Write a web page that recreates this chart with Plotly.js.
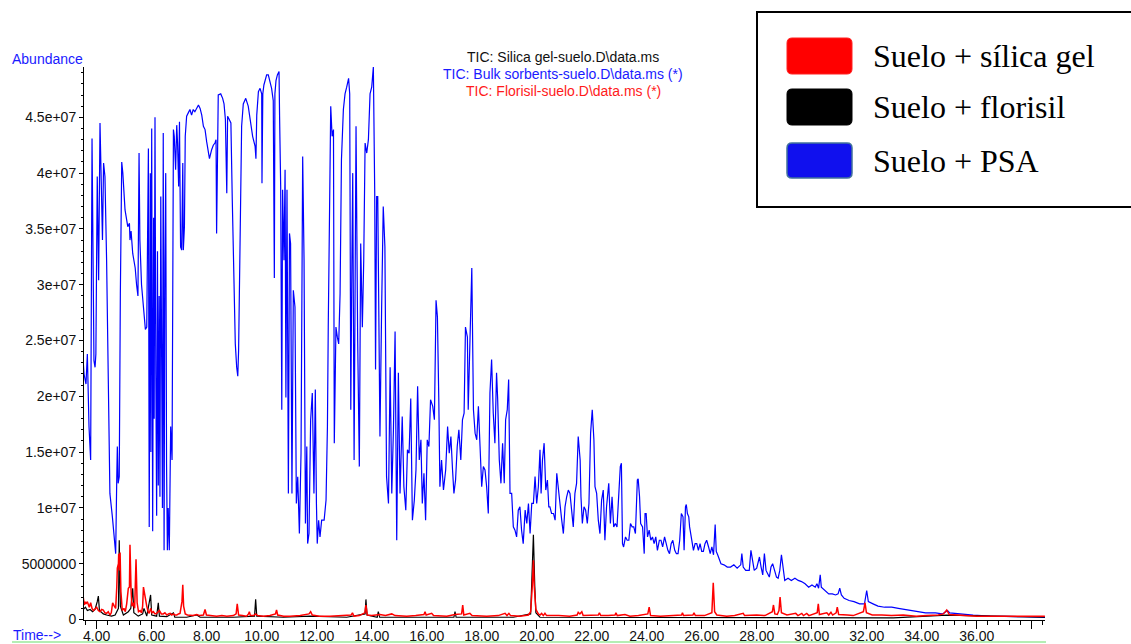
<!DOCTYPE html>
<html><head><meta charset="utf-8">
<script src="https://cdn.plot.ly/plotly-3.0.1.min.js"></script>
<style>html,body{margin:0;padding:0;background:#fff;} #chart{width:1131px;height:644px;}</style>
</head><body><div id="chart"></div>
<script>
// ---- DATA (retention time in minutes, abundance in counts) ----
const timePSA = [
3.49,3.54,3.61,3.66,3.72,3.78,3.83,3.88,3.90,3.94,
3.97,4.02,4.07,4.12,4.17,4.21,4.25,4.30,4.36,4.42,
4.48,4.57,4.64,4.69,4.73,4.75,4.78,4.82,4.86,4.91,
4.95,5.03,5.13,5.19,5.21,5.25,5.31,5.40,5.45,5.50,
5.54,5.57,5.63,5.70,5.77,
5.82,5.88,5.91,5.95,5.97,6.00,6.035,6.07,6.09,6.12,
6.15,6.18,6.21,6.24,6.27,6.30,6.33,6.36,6.39,6.42,
6.45,6.48,6.51,6.54,6.57,6.60,6.62,6.64,6.69,6.74,6.79,
6.82,6.87,6.91,6.94,6.98,7.01,7.05,7.09,7.13,7.15,
7.19,7.22,7.27,7.33,7.39,7.45,7.51,7.57,7.64,7.70,
7.76,7.82,7.88,7.94,8.00,8.06,8.10,8.18,8.24,8.30,
8.34,8.36,8.39,8.42,8.51,8.58,8.63,8.68,8.73,8.76,
8.82,8.88,8.93,8.99,9.04,9.09,9.13,9.16,9.21,9.27,
9.33,9.42,9.51,9.60,9.67,9.76,9.79,9.82,9.88,9.94,
10.00,10.01,10.04,
10.08,10.13,10.18,10.24,10.30,10.36,10.42,10.46,10.48,10.52,
10.57,10.63,10.65,10.69,10.73,10.76,10.81,10.85,10.88,10.92,
10.97,11.01,11.05,11.10,11.15,11.21,11.26,11.31,11.37,11.43,
11.49,11.54,11.59,11.64,11.67,11.72,11.78,11.84,11.90,11.95,
11.99,12.02,12.07,12.12,12.18,12.27,12.34,12.39,12.42,12.46,
12.51,12.56,12.61,12.64,12.70,12.75,12.80,12.85,12.90,12.97,
13.03,13.09,13.16,13.20,13.24,13.28,13.31,13.36,13.43,13.49,
13.55,13.60,13.66,13.71,13.76,13.82,13.88,13.94,14.00,14.06,
14.11,14.14,14.18,14.22,14.27,14.30,
14.36,14.42,14.48,14.54,14.61,14.67,14.73,14.79,14.85,14.91,
14.97,15.03,15.11,15.17,15.24,15.30,15.36,15.42,15.48,15.55,
15.61,15.67,15.73,15.79,15.84,15.90,15.96,16.02,16.08,16.14,
16.22,16.28,16.34,16.39,16.44,16.48,16.54,16.61,16.69,16.76,
16.82,16.88,16.94,16.99,17.05,17.11,17.17,17.24,17.30,17.36,
17.41,17.48,17.51,17.57,17.64,17.70,17.76,17.82,17.88,17.94,
18.00,18.06,18.12,18.18,18.24,18.30,18.36,18.42,18.48,18.54,
18.58,18.64,18.70,18.76,18.82,18.87,18.93,18.98,19.03,19.09,
19.15,19.21,19.27,19.33,19.39,19.45,19.51,19.58,19.64,19.70,
19.76,19.82,19.88,19.94,20.00,20.06,20.12,20.16,20.21,20.27,
20.33,20.39,20.44,20.48,20.54,20.61,20.67,20.73,20.79,20.85,
20.91,20.97,21.03,21.09,21.15,21.21,21.27,21.33,21.39,21.45,
21.51,21.58,21.61,21.66,21.72,21.78,21.84,21.90,21.96,22.02,
22.08,22.12,22.18,22.24,22.30,
22.36,22.42,22.48,22.54,22.62,22.68,22.74,22.80,22.86,22.92,
22.98,23.04,23.08,23.12,23.16,23.23,23.29,23.35,23.41,23.47,
23.53,23.59,23.66,23.69,23.74,23.78,23.85,23.91,23.94,23.98,
24.03,24.09,24.15,24.21,24.27,24.33,24.39,24.46,24.52,24.58,
24.65,24.71,24.77,24.83,24.89,24.95,25.02,25.08,25.14,25.20,
25.26,25.32,25.36,25.41,25.44,25.48,25.53,25.56,25.63,25.70,
25.76,25.82,25.88,25.94,26.00,26.06,26.12,26.18,26.25,26.31,
26.37,26.43,26.49,26.53,26.58,26.64,26.70,26.81,26.93,27.05,
27.17,27.29,27.42,27.46,27.51,27.60,27.73,27.79,27.85,27.91,
28.00,28.10,28.16,28.22,28.28,28.34,28.40,28.46,28.52,28.58,
28.65,28.72,28.78,28.84,28.90,28.93,28.98,29.02,29.14,29.26,
29.39,29.51,29.63,29.76,29.89,30.01,30.13,30.19,30.25,30.31,
30.35,30.50,30.62,30.75,30.87,30.96,31.02,31.08,31.18,31.36,
31.54,31.74,31.92,32.00,32.06,32.23,32.41,32.65,32.91,33.15,
33.40,33.76,34.14,34.50,34.75,34.88,34.94,35.02,35.37,35.87,
36.48,37.10,37.71,38.33,38.76
];
const abundPSA = [
2.38e7,2.20e7,2.11e7,2.38e7,1.73e7,1.43e7,4.31e7,2.47e7,2.32e7,2.26e7,
2.38e7,3.97e7,3.04e7,4.45e7,3.67e7,3.40e7,4.09e7,3.97e7,3.22e7,2.03e7,
1.13e7,0.92e7,0.68e7,0.59e7,1.28e7,1.55e7,1.22e7,1.28e7,2.92e7,4.10e7,
4.00e7,3.67e7,3.52e7,3.55e7,3.40e7,3.48e7,3.28e7,3.15e7,3.00e7,2.90e7,
4.18e7,3.40e7,3.00e7,2.80e7,2.60e7,
2.62e7,4.22e7,0.83e7,4.00e7,1.50e7,4.40e7,0.79e7,3.60e7,1.80e7,4.50e7,
2.20e7,0.93e7,3.30e7,1.20e7,2.90e7,1.10e7,3.79e7,2.00e7,1.00e7,4.36e7,
0.62e7,3.20e7,4.00e7,1.40e7,0.62e7,1.00e7,0.70e7,0.62e7,1.73e7,1.43e7,4.39e7,
4.33e7,4.03e7,4.43e7,4.27e7,3.88e7,4.46e7,3.34e7,3.31e7,4.09e7,3.31e7,
3.52e7,4.33e7,4.51e7,4.54e7,4.57e7,4.52e7,4.57e7,4.55e7,4.58e7,4.61e7,
4.58e7,4.52e7,4.42e7,4.39e7,4.28e7,4.18e7,4.13e7,4.21e7,4.25e7,4.27e7,
4.30e7,3.46e7,4.30e7,4.70e7,4.71e7,4.67e7,4.62e7,4.48e7,3.82e7,4.51e7,
4.48e7,4.45e7,3.76e7,2.92e7,2.47e7,2.26e7,2.18e7,2.41e7,3.22e7,4.42e7,
4.62e7,4.67e7,4.60e7,4.42e7,4.33e7,4.24e7,4.13e7,4.52e7,4.73e7,4.76e7,
4.71e7,3.91e7,4.71e7,
4.79e7,4.83e7,4.88e7,4.88e7,4.83e7,4.76e7,4.65e7,3.06e7,4.71e7,4.83e7,
4.88e7,4.91e7,4.51e7,3.88e7,1.88e7,3.85e7,3.22e7,4.03e7,1.99e7,3.85e7,
1.13e7,3.46e7,3.37e7,1.13e7,2.95e7,2.80e7,1.04e7,1.28e7,0.77e7,1.49e7,
4.15e7,3.22e7,0.86e7,1.55e7,0.68e7,0.77e7,1.79e7,2.03e7,1.13e7,2.06e7,
1.04e7,0.68e7,0.89e7,0.74e7,0.89e7,0.89e7,1.07e7,1.73e7,2.62e7,3.52e7,
4.60e7,4.33e7,4.39e7,1.58e7,2.62e7,2.53e7,2.47e7,2.92e7,4.12e7,4.57e7,
4.71e7,4.77e7,4.85e7,4.71e7,1.88e7,3.22e7,4.00e7,1.43e7,4.42e7,2.50e7,
1.37e7,3.37e7,2.62e7,3.22e7,4.27e7,4.18e7,4.30e7,4.71e7,4.77e7,4.95e7,
3.82e7,2.24e7,3.79e7,3.79e7,2.35e7,1.64e7,
2.77e7,3.70e7,3.34e7,1.28e7,1.04e7,2.26e7,1.13e7,1.70e7,2.58e7,0.71e7,
2.21e7,1.13e7,1.82e7,1.19e7,0.98e7,1.52e7,1.49e7,1.98e7,0.89e7,1.07e7,
1.34e7,2.09e7,1.43e7,1.61e7,1.04e7,1.31e7,0.89e7,1.61e7,1.55e7,1.97e7,
1.91e7,1.79e7,2.86e7,2.71e7,1.97e7,1.19e7,1.43e7,1.16e7,1.34e7,1.73e7,
1.49e7,1.64e7,1.34e7,1.13e7,1.25e7,1.55e7,1.70e7,1.43e7,1.79e7,1.85e7,
2.62e7,2.53e7,1.88e7,2.56e7,3.15e7,1.88e7,1.67e7,1.61e7,1.91e7,1.55e7,
1.19e7,1.37e7,1.34e7,1.19e7,0.95e7,2.03e7,2.33e7,1.85e7,1.58e7,2.21e7,
1.98e7,1.43e7,1.22e7,1.58e7,1.22e7,1.79e7,1.88e7,2.15e7,1.13e7,1.13e7,
0.83e7,0.80e7,0.74e7,0.98e7,1.01e7,0.80e7,0.68e7,0.98e7,0.86e7,1.04e7,
0.77e7,1.04e7,1.04e7,1.28e7,1.04e7,1.19e7,1.52e7,1.13e7,1.43e7,1.58e7,
1.16e7,1.25e7,1.01e7,1.01e7,0.95e7,0.95e7,0.89e7,1.31e7,1.16e7,0.98e7,
0.89e7,0.77e7,1.01e7,1.10e7,1.16e7,1.13e7,0.98e7,0.83e7,1.13e7,1.22e7,
1.64e7,1.43e7,1.10e7,0.86e7,1.01e7,0.98e7,0.86e7,1.04e7,1.67e7,1.88e7,
1.61e7,1.19e7,1.13e7,0.89e7,0.77e7,
1.07e7,1.16e7,0.71e7,1.01e7,1.22e7,0.86e7,1.10e7,0.83e7,0.86e7,0.83e7,
1.16e7,1.37e7,1.40e7,0.68e7,0.65e7,0.74e7,0.71e7,0.71e7,0.86e7,0.83e7,
0.83e7,0.77e7,1.25e7,1.26e7,1.10e7,0.86e7,0.83e7,0.59e7,0.95e7,0.95e7,
0.74e7,0.80e7,0.71e7,0.74e7,0.68e7,0.74e7,0.62e7,0.71e7,0.71e7,0.65e7,
0.74e7,0.68e7,0.62e7,0.59e7,0.68e7,0.71e7,0.62e7,0.59e7,0.59e7,0.71e7,
0.95e7,0.92e7,0.62e7,1.01e7,1.03e7,0.95e7,0.92e7,0.83e7,0.74e7,0.62e7,
0.68e7,0.68e7,0.62e7,0.68e7,0.61e7,0.61e7,0.68e7,0.71e7,0.65e7,0.59e7,
0.65e7,0.58e7,0.85e7,0.61e7,0.58e7,0.53e7,0.50e7,0.49e7,0.47e7,0.47e7,
0.49e7,0.46e7,0.49e7,0.59e7,0.47e7,0.44e7,0.44e7,0.62e7,0.53e7,0.44e7,
0.46e7,0.56e7,0.47e7,0.40e7,0.59e7,0.44e7,0.41e7,0.38e7,0.47e7,0.50e7,
0.44e7,0.38e7,0.37e7,0.44e7,0.58e7,0.53e7,0.44e7,0.35e7,0.37e7,0.35e7,
0.37e7,0.35e7,0.34e7,0.32e7,0.29e7,0.31e7,0.29e7,0.32e7,0.28e7,0.40e7,
0.29e7,0.26e7,0.23e7,0.23e7,0.22e7,0.23e7,0.28e7,0.22e7,0.19e7,0.17e7,
0.16e7,0.14e7,0.14e7,0.26e7,0.16e7,0.14e7,0.12e7,0.11e7,0.11e7,0.10e7,
0.09e7,0.08e7,0.06e7,0.06e7,0.05e7,0.07e7,0.08e7,0.06e7,0.05e7,0.04e7,
0.03e7,0.03e7,0.025e7,0.02e7,0.015e7
];

// black trace (legend: Suelo + florisil)
const timeFlorisil = [
3.51,3.59,3.66,3.76,3.85,3.94,4.02,4.06,4.10,4.24,
4.36,4.54,4.67,4.79,4.82,4.86,4.97,5.15,5.24,5.31,
5.35,5.51,5.67,5.72,5.82,5.96,6.00,6.18,6.24,6.28,
6.55,6.79,6.84,7.27,7.64,7.76,8.97,9.74,9.78,9.82,
10.79,11.76,13.09,13.76,13.79,13.83,14.20,14.24,14.29,15.76,
16.99,17.03,17.07,19.15,19.78,19.83,19.88,19.93,19.97,20.12,
21.57,24.00,26.42,28.12,30.55,32.97,34.91,38.48
];
const abundFlorisil = [
0.09e7,0.11e7,0.08e7,0.09e7,0.07e7,0.09e7,0.16e7,0.21e7,0.08e7,0.05e7,
0.04e7,0.03e7,0.04e7,0.10e7,0.71e7,0.12e7,0.04e7,0.07e7,0.10e7,0.28e7,
0.06e7,0.03e7,0.05e7,0.10e7,0.03e7,0.22e7,0.04e7,0.03e7,0.15e7,0.03e7,
0.025e7,0.06e7,0.02e7,0.02e7,0.04e7,0.02e7,0.02e7,0.03e7,0.18e7,0.03e7,
0.02e7,0.03e7,0.02e7,0.05e7,0.18e7,0.04e7,0.02e7,0.07e7,0.02e7,0.02e7,
0.02e7,0.07e7,0.02e7,0.02e7,0.05e7,0.40e7,0.76e7,0.30e7,0.06e7,0.02e7,
0.02e7,0.015e7,0.02e7,0.015e7,0.015e7,0.015e7,0.04e7,0.02e7
];

// red trace (legend: Suelo + sílica gel)
const timeSilica = [
3.51,3.55,3.58,3.61,3.66,3.70,3.73,3.78,3.83,3.88,
3.94,4.00,4.06,4.12,4.18,4.24,4.30,4.36,4.42,4.48,
4.53,4.58,4.64,4.69,4.73,4.75,4.79,4.80,4.82,4.85,
4.88,4.93,4.99,5.04,5.09,5.15,5.19,5.21,5.25,5.28,
5.33,5.38,5.43,5.47,5.52,5.58,5.63,5.67,5.70,5.73,
5.77,5.82,5.87,5.91,5.96,6.01,6.06,6.12,6.18,6.23,
6.28,6.35,6.42,6.48,6.55,6.61,6.67,6.73,6.79,6.85,
6.91,6.97,7.03,7.10,7.13,7.16,7.22,7.30,7.39,7.50,
7.64,7.75,7.88,7.94,7.99,8.15,8.36,8.55,8.73,8.97,
9.07,9.11,9.16,9.30,9.45,9.52,9.55,9.59,9.70,9.78,
9.85,10.06,10.30,10.50,10.54,10.58,10.80,11.03,11.40,11.72,
11.78,11.84,12.10,12.48,12.80,13.25,13.30,13.35,13.55,13.75,
13.79,13.84,14.00,14.30,14.50,14.73,14.85,15.27,15.60,15.90,
15.94,15.98,16.18,16.25,16.73,17.03,17.27,17.31,17.35,17.57,
17.65,18.18,18.60,18.85,18.92,18.99,19.05,19.39,19.70,19.78,
19.84,19.88,19.91,19.97,20.06,20.12,20.18,20.24,20.30,20.36,
20.80,21.20,21.47,21.51,21.57,21.64,21.69,21.95,22.24,22.28,
22.33,22.60,22.85,22.88,22.93,23.21,23.39,23.70,24.04,24.09,
24.14,24.50,24.90,25.27,25.30,25.34,25.68,25.72,25.77,26.10,
26.37,26.42,26.47,26.55,26.91,27.20,27.51,27.56,28.00,28.30,
28.57,28.61,28.66,28.75,28.81,28.85,28.90,29.10,29.42,29.50,
29.64,29.70,29.82,29.90,30.20,30.24,30.28,30.55,30.62,30.70,
30.76,30.89,30.93,30.98,31.30,31.51,31.88,31.94,31.99,32.20,
32.55,32.90,33.33,33.80,34.18,34.60,34.79,34.91,35.00,35.50,
36.00,37.00,38.48
];
const abundSilica = [
0.20e7,0.13e7,0.16e7,0.14e7,0.16e7,0.12e7,0.11e7,0.15e7,0.10e7,0.08e7,
0.10e7,0.11e7,0.08e7,0.07e7,0.09e7,0.085e7,0.06e7,0.055e7,0.07e7,0.04e7,
0.06e7,0.15e7,0.12e7,0.10e7,0.29e7,0.46e7,0.50e7,0.59e7,0.44e7,0.60e7,
0.25e7,0.08e7,0.10e7,0.07e7,0.14e7,0.28e7,0.29e7,0.67e7,0.26e7,0.12e7,
0.15e7,0.10e7,0.54e7,0.15e7,0.07e7,0.08e7,0.06e7,0.12e7,0.29e7,0.24e7,
0.20e7,0.12e7,0.07e7,0.055e7,0.10e7,0.06e7,0.07e7,0.05e7,0.055e7,0.07e7,
0.08e7,0.05e7,0.05e7,0.06e7,0.04e7,0.05e7,0.055e7,0.04e7,0.05e7,0.04e7,
0.04e7,0.05e7,0.055e7,0.16e7,0.31e7,0.12e7,0.05e7,0.04e7,0.04e7,0.035e7,
0.045e7,0.035e7,0.04e7,0.09e7,0.04e7,0.035e7,0.03e7,0.035e7,0.03e7,0.035e7,
0.05e7,0.14e7,0.04e7,0.035e7,0.03e7,0.05e7,0.07e7,0.035e7,0.035e7,0.05e7,
0.035e7,0.03e7,0.035e7,0.05e7,0.085e7,0.04e7,0.03e7,0.03e7,0.035e7,0.05e7,
0.07e7,0.04e7,0.03e7,0.03e7,0.035e7,0.04e7,0.06e7,0.03e7,0.035e7,0.06e7,
0.13e7,0.04e7,0.035e7,0.045e7,0.035e7,0.05e7,0.035e7,0.03e7,0.035e7,0.045e7,
0.07e7,0.04e7,0.055e7,0.035e7,0.03e7,0.045e7,0.05e7,0.13e7,0.04e7,0.055e7,
0.035e7,0.03e7,0.035e7,0.055e7,0.035e7,0.055e7,0.035e7,0.03e7,0.04e7,0.07e7,
0.30e7,0.53e7,0.30e7,0.09e7,0.05e7,0.04e7,0.055e7,0.035e7,0.055e7,0.035e7,
0.035e7,0.03e7,0.04e7,0.065e7,0.05e7,0.07e7,0.035e7,0.035e7,0.04e7,0.06e7,
0.035e7,0.035e7,0.04e7,0.06e7,0.035e7,0.045e7,0.03e7,0.035e7,0.05e7,0.11e7,
0.035e7,0.03e7,0.035e7,0.04e7,0.06e7,0.035e7,0.04e7,0.06e7,0.035e7,0.035e7,
0.06e7,0.33e7,0.07e7,0.04e7,0.03e7,0.035e7,0.055e7,0.035e7,0.04e7,0.035e7,
0.07e7,0.13e7,0.05e7,0.045e7,0.08e7,0.20e7,0.06e7,0.04e7,0.055e7,0.035e7,
0.055e7,0.035e7,0.055e7,0.035e7,0.06e7,0.14e7,0.045e7,0.06e7,0.04e7,0.065e7,
0.04e7,0.06e7,0.11e7,0.045e7,0.04e7,0.035e7,0.07e7,0.15e7,0.06e7,0.04e7,
0.04e7,0.035e7,0.04e7,0.03e7,0.035e7,0.04e7,0.05e7,0.085e7,0.045e7,0.035e7,
0.03e7,0.03e7,0.03e7
];

const xTickVals = [4,6,8,10,12,14,16,18,20,22,24,26,28,30,32,34,36,38];
const xTickText = ["4.00","6.00","8.00","10.00","12.00","14.00","16.00","18.00","20.00","22.00","24.00","26.00","28.00","30.00","32.00","34.00","36.00",""];
const yTickVals = [0,5e6,1e7,1.5e7,2e7,2.5e7,3e7,3.5e7,4e7,4.5e7];
const yTickText = ["0","5000000","1e+07","1.5e+07","2e+07","2.5e+07","3e+07","3.5e+07","4e+07","4.5e+07"];

const headerLines = ["TIC: Silica gel-suelo.D\\data.ms","TIC: Bulk sorbents-suelo.D\\data.ms (*)","TIC: Florisil-suelo.D\\data.ms (*)"];
const legendLabels = ["Suelo + sílica gel","Suelo + florisil","Suelo + PSA"];

// ---- LAYOUT HELPERS (pixel -> paper) ----
const W = 1131, H = 644, ML = 84, MR = 86, MT = 67, MB = 24;
const PW = W - ML - MR, PH = H - MT - MB;
const px = x => (x - ML) / PW;
const py = y => (H - MB - y) / PH;
function roundRect(x0, y0, x1, y1, r) {
  const X0 = px(x0), X1 = px(x1), Y0 = py(y1), Y1 = py(y0);
  const rx = r / PW, ry = r / PH;
  return `M ${X0+rx},${Y0} L ${X1-rx},${Y0} Q ${X1},${Y0} ${X1},${Y0+ry} L ${X1},${Y1-ry} Q ${X1},${Y1} ${X1-rx},${Y1} L ${X0+rx},${Y1} Q ${X0},${Y1} ${X0},${Y1-ry} L ${X0},${Y0+ry} Q ${X0},${Y0} ${X0+rx},${Y0} Z`;
}

const traces = [
  {type:'scatter', mode:'lines', x: timePSA, y: abundPSA, line:{color:'#0000ff', width:1.2}, name:'PSA'},
  {type:'scatter', mode:'lines', x: timeFlorisil, y: abundFlorisil, line:{color:'#000000', width:1.2}, name:'florisil'},
  {type:'scatter', mode:'lines', x: timeSilica, y: abundSilica, line:{color:'#ff0000', width:1.5}, name:'silica'}
];

const tickFont = {family:'"Liberation Sans", Arial, sans-serif', size:14, color:'#111'};
const swatchColors = ['#ff0000','#000000','#1010ee'];
const swatchLines = ['#ff2020','#000000','#41719c'];
const swatchY = [[38,74],[89,125],[143,178]];

const shapes = [
  {type:'rect', xref:'paper', yref:'paper', x0:px(757), x1:px(1134), y0:py(207), y1:py(12), line:{color:'#000', width:2}, fillcolor:'rgba(0,0,0,0)'},
  {type:'line', xref:'paper', yref:'paper', x0:px(12), x1:px(1046), y0:py(642), y1:py(642), line:{color:'#9be89b', width:1.5}}
];
const annotations = [
  {xref:'paper', yref:'paper', x:px(10), y:py(59), xanchor:'left', yanchor:'middle', text:'Abundance', showarrow:false, font:{family:tickFont.family, size:14, color:'#1a1aff'}},
  {xref:'paper', yref:'paper', x:px(11), y:py(635), xanchor:'left', yanchor:'middle', text:'Time-->', showarrow:false, font:{family:tickFont.family, size:14, color:'#1a1aff'}}
];
const headerColors = ['#111111','#1a1aff','#ff1a1a'];
const headerY = [57, 74, 91];
headerLines.forEach((t, i) => annotations.push({xref:'paper', yref:'paper', x:px(563), y:py(headerY[i]), xanchor:'center', yanchor:'middle', text:t, showarrow:false, font:{family:tickFont.family, size:14, color:headerColors[i]}}));
legendLabels.forEach((t, i) => {
  shapes.push({type:'path', xref:'paper', yref:'paper', path: roundRect(787, swatchY[i][0], 852, swatchY[i][1], 5), fillcolor: swatchColors[i], line:{color: swatchLines[i], width: i===2 ? 1.5 : 1}});
  annotations.push({xref:'paper', yref:'paper', x:px(871), y:py((swatchY[i][0]+swatchY[i][1])/2), xanchor:'left', yanchor:'middle', text:t, showarrow:false, font:{family:'"Liberation Serif", "Times New Roman", serif', size:32, color:'#000'}});
});

const layout = {
  width: W, height: H,
  margin: {l: ML, r: MR, t: MT, b: MB, pad: 0},
  paper_bgcolor: '#fff', plot_bgcolor: '#fff',
  showlegend: false,
  xaxis: {range:[3.538, 38.484], tickmode:'array', tickvals:xTickVals, ticktext:xTickText, ticks:'outside', ticklen:8, tickwidth:1, tickcolor:'#000',
    ticklabelstandoff:-5,
    minor:{dtick:0.4, tick0:0, ticks:'outside', ticklen:4, tickwidth:1, tickcolor:'#000'},
    showline:true, linecolor:'#000', linewidth:1, showgrid:false, zeroline:false, tickfont:tickFont, automargin:false},
  yaxis: {range:[-45000, 4.951e7], tickmode:'array', tickvals:yTickVals, ticktext:yTickText, ticks:'outside', ticklen:4, tickwidth:1, tickcolor:'#000',
    minor:{dtick:1e6, tick0:0, ticks:'outside', ticklen:2, tickwidth:1, tickcolor:'#000'},
    showline:true, linecolor:'#000', linewidth:1, showgrid:false, zeroline:false, tickfont:tickFont, automargin:false},
  shapes: shapes,
  annotations: annotations
};

Plotly.newPlot('chart', traces, layout, {displayModeBar:false, staticPlot:true});
</script>
</body></html>
